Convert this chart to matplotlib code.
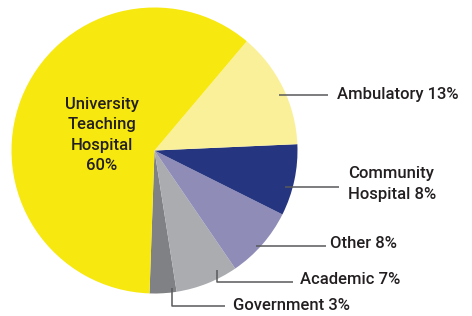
import matplotlib.pyplot as plt

labels = ['Government', 'Academic', 'Other', 'Community\nHospital', 'Ambulatory', 'University\nTeaching\nHospital']
shares = [3, 7, 8, 8, 13, 60]
colors = ['#808184', '#abacb0', '#8f8db8', '#26357f', '#faf09a', '#f7e810']

fig = plt.figure(figsize=(4.72, 3.16), dpi=100)
ax = fig.add_axes([0, 0, 1, 1])

cx, cy, R = 154.5, 165.5, 143
wedges, _ = ax.pie(shares, colors=colors, startangle=-92, counterclock=True,
                   center=(cx, cy), radius=R, frame=True,
                   wedgeprops=dict(linewidth=0))
ax.set_xlim(0, 472)
ax.set_ylim(0, 316)
ax.set_aspect('equal')
ax.axis('off')

font = dict(family=['Roboto', 'DejaVu Sans'], fontweight='medium', fontsize=12, color='#231f20')
line_kw = dict(color='#58595b', lw=1.1, solid_capstyle='butt')

# label layout in pixels from top-left: leader start, text position, elbow or not
place = {
    'Ambulatory': ((279, 95), (337, 94), False),
    'Community\nHospital': ((285, 187), (348, 184), False),
    'Other': ((256, 246), (330, 244), False),
    'Academic': ((217, 270), (300, 280), True),
    'Government': ((172, 288), (233, 306), True),
}
line_end = {'Ambulatory': 328, 'Community\nHospital': 339, 'Other': 326,
            'Academic': 293, 'Government': 225}
line_y = {'Ambulatory': 95, 'Community\nHospital': 187, 'Other': 246,
          'Academic': 282, 'Government': 306}

for lab, s in zip(labels, shares):
    if lab.startswith('University'):
        ax.text(102, 316 - 135, f'{lab}\n{s}%', ha='center', va='center',
                linespacing=1.42, **font)
        continue
    (sx, sy), (tx, ty), elbow = place[lab]
    ly = 316 - line_y[lab]
    if elbow:
        ax.plot([sx, sx, line_end[lab]], [316 - sy, ly, ly], **line_kw)
    else:
        ax.plot([sx, line_end[lab]], [ly, ly], **line_kw)
    ax.text(tx, 316 - ty, f'{lab} {s}%', ha='left', va='center',
            linespacing=1.42, **font)

fig.savefig('out.png', dpi=100)
